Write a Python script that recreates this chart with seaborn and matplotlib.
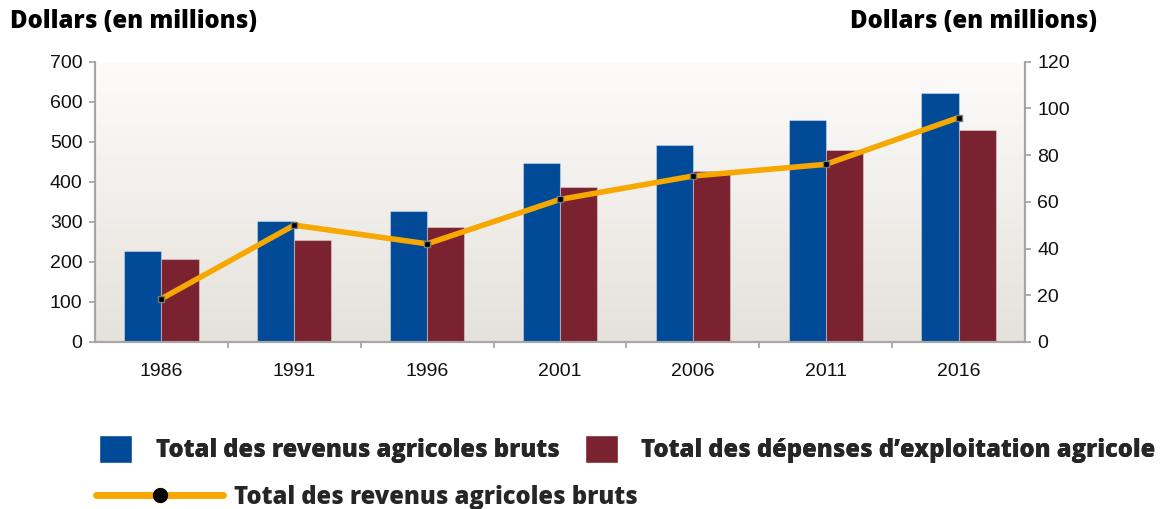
import numpy as np
import pandas as pd
import matplotlib
matplotlib.use("Agg")
import matplotlib.pyplot as plt
import seaborn as sns
from matplotlib.patches import Patch
from matplotlib.lines import Line2D

# values
years = ["1986", "1991", "1996", "2001", "2006", "2011", "2016"]
revenus = [227, 301, 327, 447, 492, 555, 621]      # left axis, bars
depenses = [207, 255, 287, 387, 427, 480, 528]     # left axis, bars
revenus_nets = [18.5, 50, 42, 61, 71, 76, 96]      # right axis, line

lab_rev = "Total des revenus agricoles bruts"
lab_dep = "Total des dépenses d\u2019exploitation agricole"
lab_line = "Total des revenus agricoles bruts"

blue = "#004a97"
red = "#7a2230"
orange = "#f7a800"
grey = "#a6a6a6"

df = pd.DataFrame({
    "annee": years * 2,
    "valeur": revenus + depenses,
    "serie": [lab_rev] * len(years) + [lab_dep] * len(years),
})

sns.set_theme(style="white")
bold_font = ["Open Sans", "DejaVu Sans"]
tick_font = ["Liberation Sans", "DejaVu Sans"]
W, H = 1167, 509

fig = plt.figure(figsize=(W / 100, H / 100), dpi=100)
ax = fig.add_axes([95 / W, 1 - 342 / H, 930 / W, 280.5 / H])

# background gradient
grad = np.linspace(0, 1, 256).reshape(-1, 1)
bg = np.ones((256, 1, 3))
top_c = np.array([253, 252, 251]) / 255
bot_c = np.array([229, 225, 219]) / 255
bg[:, 0, :] = top_c * (1 - grad) + bot_c * grad
ax.imshow(bg, extent=[0, 1, 0, 1], transform=ax.transAxes, aspect="auto", zorder=0)

sns.barplot(data=df, x="annee", y="valeur", hue="serie", palette=[blue, red],
            width=0.56, gap=0, saturation=1, legend=False, ax=ax,
            edgecolor=(1, 1, 1, 0.35), linewidth=0.8, zorder=2)
ax.set_xlim(-0.5, len(years) - 0.5)
ax.set_ylim(0, 700)
ax.set_yticks(range(0, 701, 100))
ax.set_xlabel("")
ax.set_ylabel("")

ax2 = ax.twinx()
sns.lineplot(x=np.arange(len(years)), y=revenus_nets, ax=ax2, color=orange,
             linewidth=4, marker="s", markersize=5, markerfacecolor="black",
             markeredgecolor="#777777", markeredgewidth=1, zorder=3)
ax2.set_ylim(0, 120)
ax2.set_yticks(range(0, 121, 20))
ax2.set_xlim(-0.5, len(years) - 0.5)

for a in (ax, ax2):
    a.spines["top"].set_visible(False)
    for s in ("left", "right", "bottom"):
        a.spines[s].set_color(grey)
        a.spines[s].set_linewidth(1.5)
    a.grid(False)

ax.tick_params(axis="y", which="major", direction="out", length=4, width=1.3,
               color=grey, pad=5, left=True, labelsize=14)
ax2.tick_params(axis="y", which="major", direction="out", length=4, width=1.3,
                color=grey, pad=5, right=True, labelsize=14)
ax.set_xticks(np.arange(len(years)))
ax.set_xticks(np.arange(len(years) - 1) + 0.5, minor=True)
ax.tick_params(axis="x", which="major", length=0, pad=15, labelsize=14)
ax.tick_params(axis="x", which="minor", bottom=True, direction="out",
               length=4, width=1.3, color=grey)
for lab in ax.get_xticklabels() + ax.get_yticklabels() + ax2.get_yticklabels():
    lab.set_family(tick_font)
    lab.set_color("#111111")

title_kw = dict(family=bold_font, fontweight=800, fontsize=17.2, va="center",
                color="black")
fig.text(10 / W, 1 - 22 / H, "Dollars (en millions)", ha="left", **title_kw)
fig.text(1097 / W, 1 - 22 / H, "Dollars (en millions)", ha="right", **title_kw)

leg_kw = dict(frameon=False, borderpad=0, borderaxespad=0, loc="center left",
              prop={"family": bold_font, "weight": 800, "size": 17.1})
l1 = fig.legend(handles=[Patch(facecolor=blue, label=lab_rev)], handlelength=1.4,
                handleheight=1.4, handletextpad=0.98,
                bbox_to_anchor=(99 / W, 1 - 449 / H), **leg_kw)
l2 = fig.legend(handles=[Patch(facecolor=red, label=lab_dep)], handlelength=1.4,
                handleheight=1.4, handletextpad=0.95,
                bbox_to_anchor=(585 / W, 1 - 449 / H), **leg_kw)
fig.add_artist(l1)
fig.add_artist(l2)
fig.legend(handles=[Line2D([], [], color=orange, lw=5, marker="o", markersize=10,
                           markerfacecolor="black", markeredgecolor="black",
                           label=lab_line)],
           handlelength=5.35, handletextpad=0.47,
           bbox_to_anchor=(96 / W, 1 - 497 / H), **leg_kw)

fig.savefig("out.png", dpi=100)
